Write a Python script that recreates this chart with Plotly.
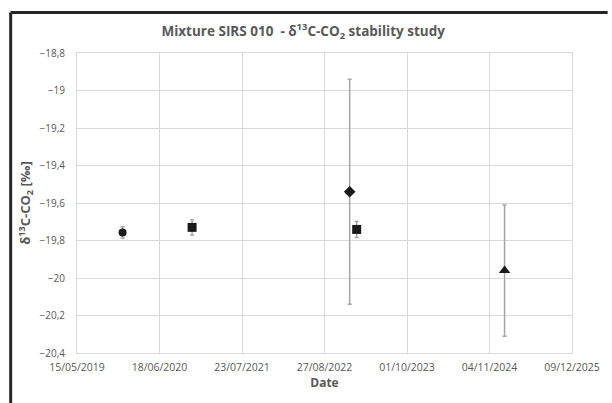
import pandas as pd
import plotly.graph_objects as go

# measurement dates, delta13C values and expanded uncertainties
sample_dates = ["2019-12-22", "2020-11-23", "2022-12-27", "2023-01-30", "2025-01-16"]
delta_values = [-19.757, -19.730, -19.540, -19.741, -19.960]
uncertainties = [0.03, 0.04, 0.60, 0.043, 0.35]

# x tick dates (every 400 days, like the original chart)
tick_dates = ["2019-05-15", "2020-06-18", "2021-07-23", "2022-08-27",
              "2023-10-01", "2024-11-04", "2025-12-09"]

symbols = ["circle", "square", "diamond", "square", "triangle-up"]
sizes = [8, 9, 9, 9, 10]

grey = "#595959"
font_family = "Open Sans, Noto Sans, sans-serif"

fig = go.Figure()
for d, v, e, sym, sz in zip(sample_dates, delta_values, uncertainties, symbols, sizes):
    fig.add_trace(go.Scatter(
        x=[pd.Timestamp(d)], y=[v], mode="markers",
        marker=dict(symbol=sym, size=sz, color="#1a1a1a"),
        error_y=dict(type="data", array=[e], color="#a6a6a6", thickness=1.5, width=2),
        showlegend=False,
    ))

ticks = pd.to_datetime(tick_dates)
fig.update_xaxes(
    range=[ticks[0], ticks[-1]],
    tickvals=ticks,
    ticktext=[t.strftime("%d/%m/%Y") for t in ticks],
    showgrid=True, gridcolor="#d9d9d9", gridwidth=1,
    showline=True, linecolor="#d9d9d9", mirror=True,
    zeroline=False, ticks="", ticklabelstandoff=4,
    tickfont=dict(size=10.5, color=grey, family=font_family),
    title=dict(text="<b>Date</b>", font=dict(size=12, color=grey, family=font_family), standoff=4),
)
fig.update_yaxes(
    range=[-20.4, -18.8], dtick=0.2, tick0=-18.8,
    showgrid=True, gridcolor="#d9d9d9", gridwidth=1,
    showline=True, linecolor="#d9d9d9", mirror=True,
    zeroline=False, ticks="", ticklabelstandoff=9,
    tickfont=dict(size=10, color=grey, family=font_family),
    title=dict(text="<b>δ<sup>13</sup>C-CO<sub>2</sub> [‰]</b>",
               font=dict(size=13, color=grey, family=font_family), standoff=5),
)

# dark chart frame: only the top and left edges fall inside the picture
frame = dict(color="#262626", width=3)
fig.update_layout(
    width=612, height=403,
    margin=dict(l=77, r=36, t=53, b=50),
    separators=",.",
    paper_bgcolor="white", plot_bgcolor="white",
    title=dict(text="<b>Mixture SIRS 010  - δ<sup>13</sup>C-CO<sub>2</sub> stability study</b>",
               x=0.457, xref="paper", xanchor="center", y=0.922, yref="container", yanchor="middle",
               font=dict(size=13.5, color=grey, family=font_family)),
    shapes=[
        dict(type="line", xref="paper", yref="paper", x0=-0.134, x1=1.072, y0=1.135, y1=1.135, line=frame),
        dict(type="line", xref="paper", yref="paper", x0=-0.134, x1=-0.134, y0=1.135, y1=-0.17, line=frame),
    ],
)

fig.write_html("out.html", config={"displayModeBar": False},
               post_script="document.body.style.margin = '0'; document.body.style.overflow = 'hidden';")
